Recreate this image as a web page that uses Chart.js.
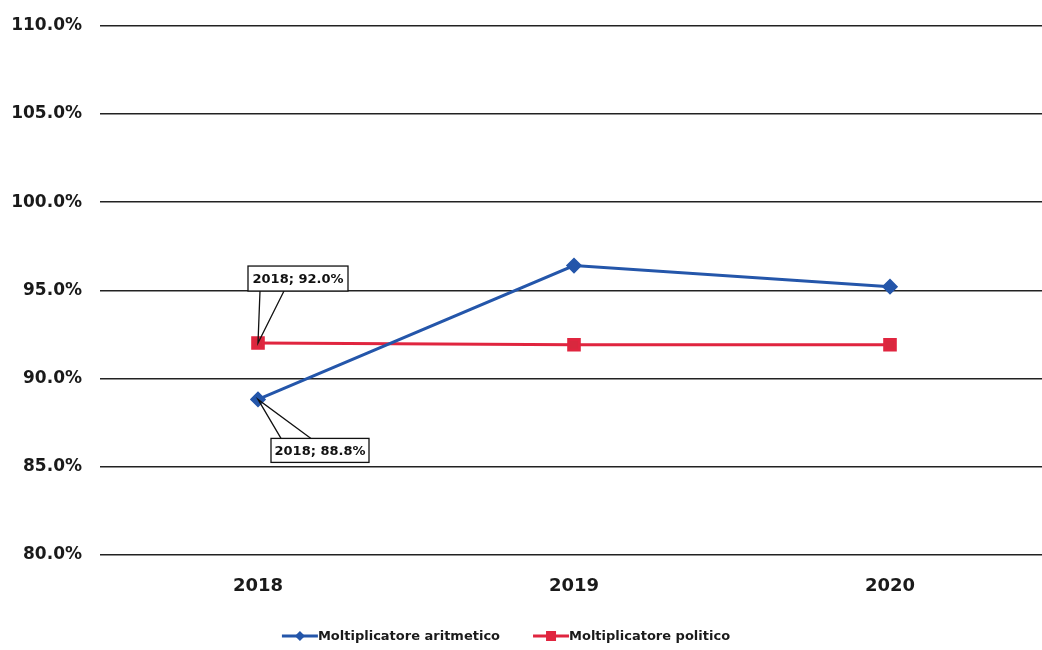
<!DOCTYPE html>
<html>
<head>
<meta charset="utf-8">
<script src="https://cdn.jsdelivr.net/npm/chart.js@4.4.0/dist/chart.umd.min.js"></script>
<style>
  html, body { margin: 0; padding: 0; background: #ffffff; overflow: hidden; }
  #wrap { position: relative; width: 1050px; height: 650px; }
</style>
</head>
<body>
<div id="wrap"><canvas id="chart"></canvas></div>
<script>
// chart data
const years = ['2018', '2019', '2020'];
const aritmetico = [88.8, 96.4, 95.2];
const politico = [92.0, 91.9, 91.9];
const yTicks = [80, 85, 90, 95, 100, 105, 110];

const blue = '#2456aa';
const red = '#e0253f';
const font = 'DejaVu Sans';

// line + marker icon used in the legend
function drawIcon(ctx, x, y, w, color, shape) {
    const mid = x + w / 2;
    ctx.strokeStyle = color;
    ctx.lineWidth = 3;
    ctx.beginPath();
    ctx.moveTo(x, y); ctx.lineTo(x + w, y);
    ctx.stroke();
    ctx.fillStyle = color;
    ctx.beginPath();
    if (shape === 'diamond') {
        ctx.moveTo(mid, y - 5); ctx.lineTo(mid + 5, y); ctx.lineTo(mid, y + 5); ctx.lineTo(mid - 5, y);
    } else {
        ctx.rect(mid - 5, y - 5, 10, 10);
    }
    ctx.closePath();
    ctx.fill();
}

// legend at the bottom, drawn by hand so the spacing can match
const legendPlugin = {
    id: 'bottomLegend',
    afterDraw(chart) {
        const ctx = chart.ctx;
        const shapes = ['diamond', 'square'];
        const gap = 33, iconW = 36, cy = 636, center = 506;
        ctx.save();
        ctx.font = 'bold 13px "' + font + '"';
        ctx.textBaseline = 'middle';
        ctx.textAlign = 'left';
        const widths = chart.data.datasets.map(ds => iconW + ctx.measureText(ds.label).width);
        let x = center - (widths.reduce((a, b) => a + b, 0) + gap) / 2;
        chart.data.datasets.forEach((ds, i) => {
            drawIcon(ctx, x, cy, iconW, ds.borderColor, shapes[i]);
            ctx.fillStyle = '#1a1a1a';
            ctx.fillText(ds.label, x + iconW, cy + 1);
            x += widths[i] + gap;
        });
        ctx.restore();
    }
};

// callout labels for the 2018 points
const calloutPlugin = {
    id: 'callouts',
    afterDatasetsDraw(chart) {
        const ctx = chart.ctx;
        const setups = [
            { ds: 0, box: [13, 39, 98, 24], wedge: [23, 53], top: true },
            { ds: 1, box: [-10, -77, 100, 25], wedge: [2, 26], top: false }
        ];
        ctx.save();
        ctx.font = 'bold 13px "' + font + '"';
        setups.forEach(s => {
            const pt = chart.getDatasetMeta(s.ds).data[0];
            const val = chart.data.datasets[s.ds].data[0];
            const bx = pt.x + s.box[0], by = pt.y + s.box[1];
            const edgeY = s.top ? by : by + s.box[3];
            ctx.strokeStyle = '#111';
            ctx.lineWidth = 1.3;
            ctx.beginPath();
            ctx.moveTo(pt.x + s.wedge[0], edgeY);
            ctx.lineTo(pt.x, pt.y);
            ctx.lineTo(pt.x + s.wedge[1], edgeY);
            ctx.stroke();
            ctx.fillStyle = '#fff';
            ctx.fillRect(bx, by, s.box[2], s.box[3]);
            ctx.strokeRect(bx, by, s.box[2], s.box[3]);
            ctx.fillStyle = '#111';
            ctx.textAlign = 'center';
            ctx.textBaseline = 'middle';
            ctx.fillText(years[0] + '; ' + val.toFixed(1) + '%', bx + s.box[2] / 2, by + s.box[3] / 2 + 1);
        });
        ctx.restore();
    }
};

new Chart(document.getElementById('chart'), {
    type: 'line',
    data: {
        labels: years,
        datasets: [{
            label: 'Moltiplicatore aritmetico',
            data: aritmetico,
            borderColor: blue,
            backgroundColor: blue,
            borderWidth: 3,
            pointStyle: 'rectRot',
            pointRadius: 6,
            tension: 0
        }, {
            label: 'Moltiplicatore politico',
            data: politico,
            borderColor: red,
            backgroundColor: '#d8283e',
            borderWidth: 3,
            pointStyle: 'rect',
            pointRadius: 7.5,
            tension: 0
        }]
    },
    options: {
        responsive: true,
        maintainAspectRatio: false,
        animation: false,
        layout: { autoPadding: false, padding: { top: 0, right: 2, left: 0, bottom: 40 } },
        scales: {
            x: {
                offset: true,
                grid: { display: false },
                border: { display: false },
                afterFit: axis => { axis.paddingLeft = 0; axis.paddingRight = 0; },
                ticks: {
                    color: '#1a1a1a',
                    padding: 13,
                    autoSkip: false,
                    maxRotation: 0,
                    font: { family: font, size: 18, weight: 'bold' }
                }
            },
            y: {
                min: yTicks[0],
                max: yTicks[yTicks.length - 1],
                afterBuildTicks: axis => { axis.ticks = yTicks.map(v => ({ value: v })); },
                afterFit: axis => { axis.width = 100; axis.paddingTop = 26; axis.paddingBottom = 0; },
                grid: { color: '#222', lineWidth: 1.4, drawTicks: false },
                border: { display: false },
                ticks: {
                    color: '#1a1a1a',
                    padding: 18,
                    font: { family: font, size: 17, weight: 'bold' },
                    callback: v => v.toFixed(1) + '%'
                }
            }
        },
        plugins: {
            legend: { display: false },
            tooltip: { enabled: false }
        }
    },
    plugins: [calloutPlugin, legendPlugin]
});
</script>
</body>
</html>
